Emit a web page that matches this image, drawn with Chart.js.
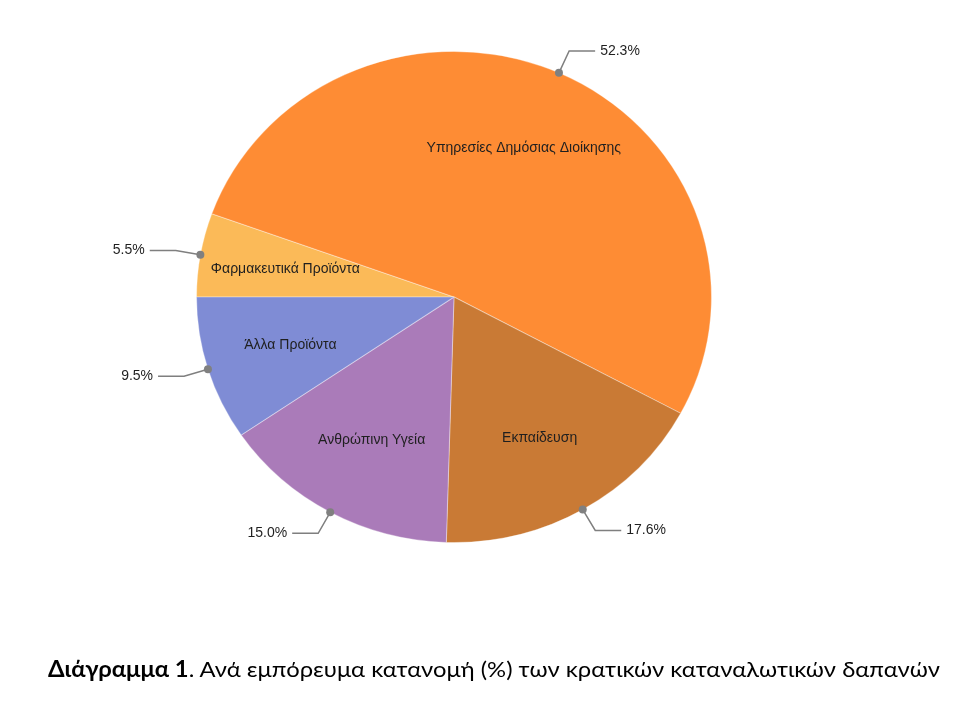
<!DOCTYPE html>
<html>
<head>
<meta charset="utf-8">
<script src="https://cdn.jsdelivr.net/npm/chart.js@4.4.1/dist/chart.umd.min.js"></script>
<style>
  html, body { margin:0; padding:0; background:#fff; }
  #wrap { position:relative; width:971px; height:709px; overflow:hidden; }
  #c { position:absolute; left:0; top:0; }
  #cap { position:absolute; left:48px; top:656px; white-space:nowrap; font-family:Lato, "Open Sans", sans-serif;
         font-size:22px; line-height:26px; color:#000; transform-origin:0 0; }
</style>
</head>
<body>
<div id="wrap">
  <canvas id="c" width="971" height="709"></canvas>
  <div id="cap"><b>Διάγραμμα 1</b>. Ανά εμπόρευμα κατανομή (%) των κρατικών καταναλωτικών δαπανών</div>
</div>
<script>
const categories = ["Φαρμακευτικά Προϊόντα", "Υπηρεσίες Δημόσιας Διοίκησης", "Εκπαίδευση", "Ανθρώπινη Υγεία", "Άλλα Προϊόντα"];
const shares = [5.5, 52.3, 17.6, 15.0, 9.5];
const sliceColors = ["#FBBA58", "#FE8C34", "#C97A35", "#AA7BB9", "#7F8CD5"];

const STRETCH_X = 258 / 246;

const ellipsePlugin = {
  id: 'ellipse',
  beforeDatasetsDraw(chart) {
    const arc = chart.getDatasetMeta(0).data[0];
    const ctx = chart.ctx;
    ctx.save();
    ctx.translate(arc.x, arc.y);
    ctx.scale(STRETCH_X, 1);
    ctx.translate(-arc.x, -arc.y);
  },
  afterDatasetsDraw(chart) {
    chart.ctx.restore();
  }
};

const labelPlugin = {
  id: 'sliceLabels',
  afterDraw(chart) {
    const ctx = chart.ctx;
    const meta = chart.getDatasetMeta(0);
    ctx.save();
    meta.data.forEach((arc, i) => {
      const mid = (arc.startAngle + arc.endAngle) / 2;
      const c = Math.cos(mid), s = Math.sin(mid);
      const rx = arc.outerRadius * STRETCH_X, ry = arc.outerRadius;
      // inner category label
      ctx.fillStyle = '#1f1f1f';
      ctx.font = '14px "Liberation Sans", Arial, sans-serif';
      ctx.textAlign = 'center';
      ctx.textBaseline = 'middle';
      ctx.fillText(categories[i], arc.x + rx * c * 0.665, arc.y + ry * s * 0.665);
      // leader
      const ex = arc.x + rx * c, ey = arc.y + ry * s;
      const kx = ex + 25 * c, ky = ey + 24 * s;
      const dir = c >= 0 ? 1 : -1;
      const hx = kx + 26 * dir;
      ctx.strokeStyle = '#7f7f7f';
      ctx.lineWidth = 1.5;
      ctx.beginPath();
      ctx.moveTo(ex, ey);
      ctx.lineTo(kx, ky);
      ctx.lineTo(hx, ky);
      ctx.stroke();
      ctx.fillStyle = '#808080';
      ctx.beginPath();
      ctx.arc(ex, ey, 4, 0, Math.PI * 2);
      ctx.fill();
      ctx.fillStyle = '#1f1f1f';
      ctx.font = '14px "Liberation Sans", Arial, sans-serif';
      ctx.textAlign = dir > 0 ? 'left' : 'right';
      ctx.fillText(shares[i].toFixed(1) + '%', hx + 5 * dir, ky);
    });
    ctx.restore();
  }
};

new Chart(document.getElementById('c'), {
  type: 'pie',
  data: {
    labels: categories,
    datasets: [{
      data: shares,
      backgroundColor: sliceColors,
      borderColor: 'rgba(255,255,255,0.35)',
      borderWidth: 1,
      clip: false
    }]
  },
  options: {
    responsive: false,
    maintainAspectRatio: false,
    animation: false,
    devicePixelRatio: 1,
    rotation: 270,
    layout: { padding: { top: 51, bottom: 166, left: 208, right: 271 } },
    plugins: { legend: { display: false }, tooltip: { enabled: false }, title: { display: false } }
  },
  plugins: [ellipsePlugin, labelPlugin]
});

const cap = document.getElementById('cap');
const w = cap.getBoundingClientRect().width;
cap.style.transform = 'scaleX(' + (892 / w) + ')';
</script>
</body>
</html>
